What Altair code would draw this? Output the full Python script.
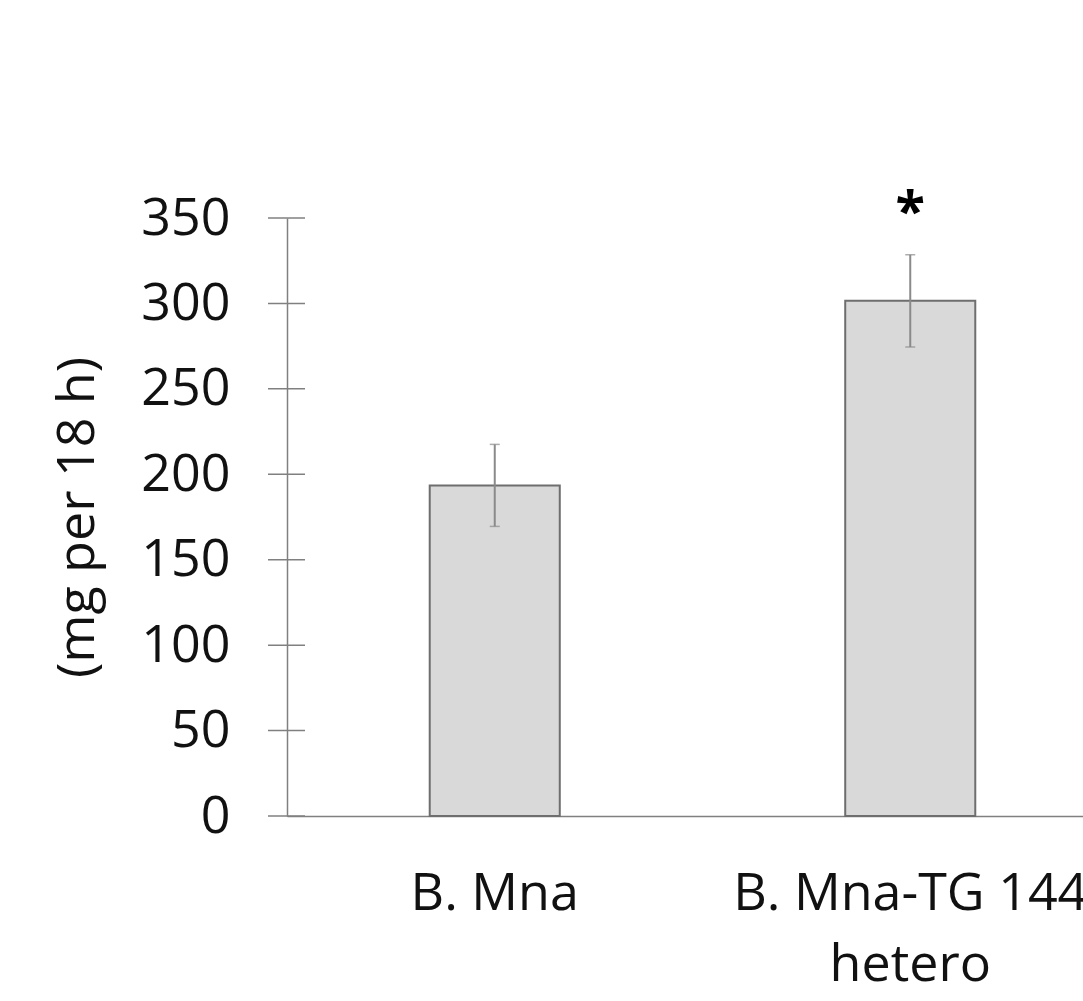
import altair as alt
import pandas as pd

categories = ["B. Mna", "B. Mna-TG 144\nhetero"]
means = [193.5, 301.5]
errors = [24.0, 27.0]
signif = ["", "*"]
y_ticks = [0, 50, 100, 150, 200, 250, 300, 350]

df = pd.DataFrame({
    "cat": categories,
    "mean": means,
    "lo": [m - e for m, e in zip(means, errors)],
    "hi": [m + e for m, e in zip(means, errors)],
    "sig": signif,
})
ticks_df = pd.DataFrame({"v": y_ticks})

FONT = "Open Sans"
AXC = "#808080"

xscale = alt.Scale(domain=categories, range=[0, 831], paddingInner=0.687, paddingOuter=0.3435)
yscale = alt.Scale(domain=[0, 350], nice=False)

x_enc = alt.X("cat:N", scale=xscale, sort=categories, axis=alt.Axis(
    title=None, labelAngle=0, labelFont=FONT, labelFontSize=52, labelColor="#111",
    labelExpr="split(datum.label, '\\n')", labelLineHeight=71,
    ticks=False, tickSize=0, labelPadding=52, domainColor=AXC, domainWidth=1.5,
    labelOverlap=False, labelLimit=0, grid=False))

y_axis = alt.Axis(
    values=y_ticks, title="(mg per 18 h)", titleFont=FONT, titleFontSize=52,
    titleFontWeight="normal", titleColor="#111", titlePadding=36,
    labelFont=FONT, labelFontSize=52, labelColor="#111", labelPadding=57,
    ticks=False, tickSize=0, grid=False, domainColor=AXC, domainWidth=1.5)

bars = alt.Chart(df).mark_bar(color="#d9d9d9", stroke="#6e6e6e", strokeWidth=2).encode(
    x=x_enc,
    y=alt.Y("mean:Q", scale=yscale, axis=y_axis),
)

xs = alt.X("cat:N", scale=xscale, sort=categories)

err = alt.Chart(df).mark_rule(color="#8a8a8a", strokeWidth=2).encode(
    x=xs,
    y=alt.Y("lo:Q", scale=yscale),
    y2="hi:Q",
)
cap_hi = alt.Chart(df).mark_tick(color="#8a8a8a", thickness=1.5, size=10, orient="horizontal").encode(
    x=xs,
    y=alt.Y("hi:Q", scale=yscale),
)
cap_lo = alt.Chart(df).mark_tick(color="#8a8a8a", thickness=1.5, size=10, orient="horizontal").encode(
    x=xs,
    y=alt.Y("lo:Q", scale=yscale),
)
star = alt.Chart(df).mark_text(font=FONT, fontSize=54, fontWeight="bold", color="#000",
                               baseline="alphabetic", dy=-25).encode(
    x=xs,
    y=alt.Y("hi:Q", scale=yscale),
    text="sig:N",
)
tick_marks = alt.Chart(ticks_df).mark_rule(color=AXC, strokeWidth=1.5).encode(
    x=alt.value(-19), x2=alt.value(18),
    y=alt.Y("v:Q", scale=yscale),
)

chart = alt.layer(bars, err, cap_hi, cap_lo, star, tick_marks).properties(
    width=796, height=598,
    background="white",
    autosize=alt.AutoSizeParams(type="none"),
    padding={"left": 287, "top": 218, "right": 0, "bottom": 185},
).configure_view(strokeWidth=0, strokeOpacity=0).configure_axis(grid=False)

chart.save("out.html", embed_options={"renderer": "svg", "actions": False})
